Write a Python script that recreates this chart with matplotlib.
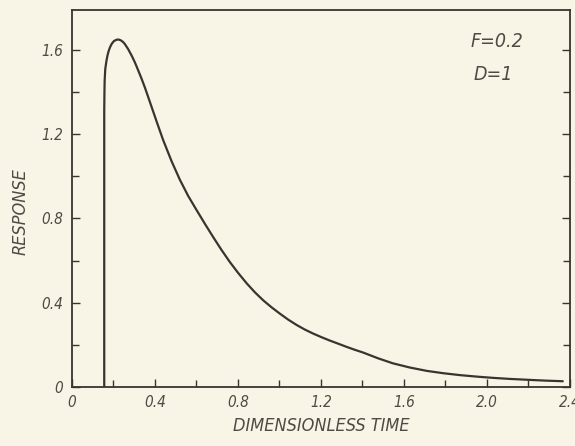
import matplotlib
matplotlib.use("Agg")
import matplotlib.pyplot as plt
from matplotlib.ticker import MultipleLocator

# Data
time = [0.156, 0.156, 0.157, 0.158, 0.161, 0.167, 0.172, 0.178, 0.185, 0.193,
        0.203, 0.215, 0.226, 0.236, 0.246, 0.255, 0.271, 0.288, 0.304, 0.320,
        0.336, 0.352, 0.368, 0.384, 0.412, 0.440, 0.480, 0.520, 0.560, 0.601,
        0.641, 0.681, 0.721, 0.761, 0.802, 0.842, 0.882, 0.922, 0.962, 1.002,
        1.043, 1.083, 1.123, 1.163, 1.203, 1.243, 1.284, 1.324, 1.364, 1.404,
        1.475, 1.547, 1.629, 1.711, 1.790, 1.870, 1.950, 2.029, 2.110, 2.193,
        2.280, 2.366]
response = [0.0, 1.313, 1.40, 1.455, 1.51, 1.55, 1.575, 1.597, 1.615, 1.630,
            1.642, 1.648, 1.649, 1.645, 1.638, 1.628, 1.604, 1.573, 1.540, 1.502,
            1.463, 1.421, 1.376, 1.330, 1.250, 1.172, 1.073, 0.985, 0.908, 0.840,
            0.775, 0.712, 0.651, 0.594, 0.541, 0.493, 0.450, 0.412, 0.379, 0.349,
            0.320, 0.295, 0.273, 0.254, 0.237, 0.221, 0.206, 0.191, 0.177, 0.164,
            0.137, 0.113, 0.093, 0.077, 0.066, 0.057, 0.050, 0.044, 0.039, 0.035,
            0.031, 0.028]
x_ticks = [0, 0.4, 0.8, 1.2, 1.6, 2.0, 2.4]
x_tick_labels = ["0", "0.4", "0.8", "1.2", "1.6", "2.0", "2.4"]
y_ticks = [0, 0.4, 0.8, 1.2, 1.6]
y_tick_labels = ["0", "0.4", "0.8", "1.2", "1.6"]

bg = "#f8f5e6"
ink = "#3a3430"
txt = "#504a44"
fam = ["DejaVu Sans"]

fig = plt.figure(figsize=(5.75, 4.46), dpi=100, facecolor=bg)
ax = fig.add_axes([0.125, 0.132, 0.866, 0.846], facecolor=bg)

ax.plot(time, response, color=ink, lw=1.6, solid_joinstyle="round",
        solid_capstyle="round")

ax.set_xlim(0, 2.4)
ax.set_ylim(0, 1.79)
ax.set_xticks(x_ticks)
ax.set_xticklabels(x_tick_labels)
ax.set_yticks(y_ticks)
ax.set_yticklabels(y_tick_labels)
ax.xaxis.set_minor_locator(MultipleLocator(0.2))
ax.yaxis.set_minor_locator(MultipleLocator(0.2))
ax.tick_params(which="both", direction="in", top=False, right=True,
               color=ink, width=1.0)
ax.tick_params(which="major", length=6)
ax.tick_params(which="minor", length=5)
ax.tick_params(axis="x", pad=6)
ax.tick_params(axis="y", pad=6)
for lab in ax.get_xticklabels() + ax.get_yticklabels():
    lab.set_family(fam)
    lab.set_style("italic")
    lab.set_stretch("condensed")
    lab.set_fontsize(11)
    lab.set_color(txt)

for s in ax.spines.values():
    s.set_color(ink)
    s.set_linewidth(1.3)

ax.set_xlabel("DIMENSIONLESS TIME", family=fam, style="italic",
              stretch="condensed", fontsize=13, color=txt, labelpad=5)
ax.set_ylabel("RESPONSE", family=fam, style="italic", stretch="condensed",
              fontsize=13, color=txt)
ax.yaxis.set_label_coords(-0.085, 0.466)

ax.text(0.80, 0.915, "F=0.2", transform=ax.transAxes, family=fam,
        style="italic", stretch="condensed", fontsize=14, color=txt,
        ha="left", va="center")
ax.text(0.807, 0.828, "D=1", transform=ax.transAxes, family=fam,
        style="italic", stretch="condensed", fontsize=14, color=txt,
        ha="left", va="center")

fig.savefig("out.png", dpi=100, facecolor=bg)
